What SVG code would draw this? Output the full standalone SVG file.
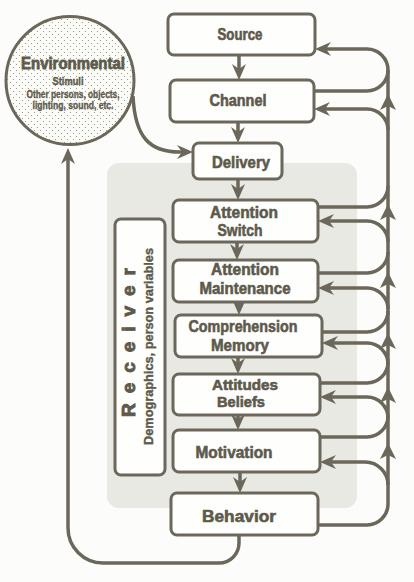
<svg xmlns="http://www.w3.org/2000/svg" xmlns:xlink="http://www.w3.org/1999/xlink" width="414" height="582" viewBox="0 0 414 582">
<style>
.box{fill:#fefefc;stroke:#6b675a;stroke-width:3}
.lbl{font-family:"Liberation Sans",Arial,sans-serif;font-weight:bold;fill:#5d5a4c;stroke:#5d5a4c;stroke-width:0.6;text-anchor:middle;font-size:16.5px}
.ln{fill:none;stroke:#6b675a;stroke-width:3.5}
.ar{marker-end:url(#ah)}
</style>
<defs>
<marker id="ah" markerUnits="userSpaceOnUse" markerWidth="16" markerHeight="14" refX="12" refY="7" orient="auto">
<path d="M0,0 L16,7 L0,14 L5,7 Z" fill="#6b675a"/>
</marker>
<path id="upArr" d="M0,0 L8,16 L0,12 L-8,16 Z" fill="#6b675a"/>
<pattern id="dots" width="6" height="6" patternUnits="userSpaceOnUse">
<rect width="6" height="6" fill="#fbfbf8"/>
<circle cx="1.5" cy="1.5" r="0.6" fill="#8f8b7e"/>
<circle cx="4.5" cy="4.5" r="0.6" fill="#8f8b7e"/>
</pattern>
</defs>
<rect width="414" height="582" fill="#fcfcfa"/>

<g id="receiver-area">
<rect x="107" y="163" width="250" height="345" rx="12" fill="#e9e9e4"/>
</g>

<g id="connectors">
<path class="ln ar" d="M239,55 V76"/>
<path class="ln ar" d="M238,122 V139"/>
<path class="ln ar" d="M238,179 V196"/>
<path class="ln ar" d="M237,242 V256"/>
<path class="ln ar" d="M239,302 V311"/>
<path class="ln ar" d="M238,357 V370"/>
<path class="ln ar" d="M238,415 V426"/>
<path class="ln ar" d="M240,472 V489"/>
<path class="ln ar" d="M133,96 C135,138 150,152 180,152 H189"/>
<path class="ln ar" d="M239,535 V543 A20 20 0 0 1 219,563 H103 A35 35 0 0 1 68,528 V152"/>
<path class="ln" d="M388,504 V70"/>
<path class="ln ar" d="M388,70 A21 21 0 0 0 367,49 H319"/>
<path class="ln" d="M314,91 H367 A21 21 0 0 0 388,70"/>
<path class="ln ar" d="M388,130 A21 21 0 0 0 367,109 H318"/>
<path class="ln" d="M318,207 H367 A21 21 0 0 0 388,186"/>
<path class="ln ar" d="M388,242 A21 21 0 0 0 367,221 H322"/>
<path class="ln" d="M318,273 H367 A21 21 0 0 0 388,252"/>
<path class="ln ar" d="M388,309 A21 21 0 0 0 367,288 H322"/>
<path class="ln" d="M322,332 H367 A21 21 0 0 0 388,311"/>
<path class="ln ar" d="M388,364 A21 21 0 0 0 367,343 H326"/>
<path class="ln" d="M320,383 H367 A21 21 0 0 0 388,362"/>
<path class="ln ar" d="M388,418 A21 21 0 0 0 367,397 H324"/>
<path class="ln" d="M320,437 H367 A21 21 0 0 0 388,416"/>
<path class="ln ar" d="M388,485 A23 23 0 0 0 365,462 H324"/>
<path class="ln" d="M318,525 H367 A21 21 0 0 0 388,504"/>
<use href="#upArr" x="388" y="94"/>
<use href="#upArr" x="388" y="204"/>
<use href="#upArr" x="388" y="272"/>
<use href="#upArr" x="388" y="333"/>
<use href="#upArr" x="388" y="387"/>
<use href="#upArr" x="388" y="443"/>
</g>

<g id="environmental">
<circle cx="70" cy="80.5" r="64" fill="url(#dots)" stroke="#6b675a" stroke-width="3"/>
<text class="lbl" x="73" y="69" style="font-size:17px;stroke-width:0.8" textLength="104" lengthAdjust="spacingAndGlyphs">Environmental</text>
<text class="lbl" x="68" y="85" style="font-size:11.5px;stroke-width:0.4" textLength="31" lengthAdjust="spacingAndGlyphs">Stimuli</text>
<text class="lbl" x="73" y="98" style="font-size:10px;stroke-width:0.3" textLength="93" lengthAdjust="spacingAndGlyphs">Other persons, objects,</text>
<text class="lbl" x="73" y="109" style="font-size:10px;stroke-width:0.3" textLength="81" lengthAdjust="spacingAndGlyphs">lighting, sound, etc.</text>
</g>

<g id="receiver">
<rect class="box" x="115" y="219" width="50" height="256" rx="6"/>
<text class="lbl" transform="translate(135,342.5) rotate(-90)" style="font-size:19px;stroke-width:0.9" textLength="149" lengthAdjust="spacing">Receiver</text>
<text class="lbl" transform="translate(152.5,346.5) rotate(-90)" style="font-size:12.5px;stroke-width:0.4" textLength="197" lengthAdjust="spacingAndGlyphs">Demographics, person variables</text>
</g>

<g id="source">
<rect class="box" x="168" y="14" width="147" height="41" rx="6"/>
<text class="lbl" x="240" y="40" textLength="45" lengthAdjust="spacingAndGlyphs">Source</text>
</g>
<g id="channel">
<rect class="box" x="170" y="80" width="144" height="42" rx="6"/>
<text class="lbl" x="238" y="106" textLength="57" lengthAdjust="spacingAndGlyphs">Channel</text>
</g>
<g id="delivery">
<rect class="box" x="193" y="143" width="89" height="36" rx="6"/>
<text class="lbl" x="241" y="168" textLength="58" lengthAdjust="spacingAndGlyphs">Delivery</text>
</g>
<g id="attention-switch">
<rect class="box" x="173" y="200" width="145" height="42" rx="6"/>
<text class="lbl" x="244" y="218" textLength="68" lengthAdjust="spacingAndGlyphs">Attention</text>
<text class="lbl" x="240" y="236" textLength="45" lengthAdjust="spacingAndGlyphs">Switch</text>
</g>
<g id="attention-maintenance">
<rect class="box" x="173" y="260" width="145" height="42" rx="6"/>
<text class="lbl" x="245" y="275" style="font-size:16px" textLength="68" lengthAdjust="spacingAndGlyphs">Attention</text>
<text class="lbl" x="245" y="294" style="font-size:16px" textLength="91" lengthAdjust="spacingAndGlyphs">Maintenance</text>
</g>
<g id="comprehension-memory">
<rect class="box" x="175" y="315" width="147" height="42" rx="6"/>
<text class="lbl" x="243" y="332" textLength="109" lengthAdjust="spacingAndGlyphs">Comprehension</text>
<text class="lbl" x="240" y="351" textLength="58" lengthAdjust="spacingAndGlyphs">Memory</text>
</g>
<g id="attitudes-beliefs">
<rect class="box" x="173" y="374" width="147" height="41" rx="6"/>
<text class="lbl" x="245" y="390" style="font-size:15px" textLength="66" lengthAdjust="spacingAndGlyphs">Attitudes</text>
<text class="lbl" x="241" y="407" style="font-size:15px" textLength="48" lengthAdjust="spacingAndGlyphs">Beliefs</text>
</g>
<g id="motivation">
<rect class="box" x="173" y="430" width="147" height="42" rx="6"/>
<text class="lbl" x="234" y="458" textLength="77" lengthAdjust="spacingAndGlyphs">Motivation</text>
</g>
<g id="behavior">
<rect class="box" x="171" y="493" width="147" height="42" rx="6"/>
<text class="lbl" x="239" y="522" textLength="74" lengthAdjust="spacingAndGlyphs">Behavior</text>
</g>
</svg>
